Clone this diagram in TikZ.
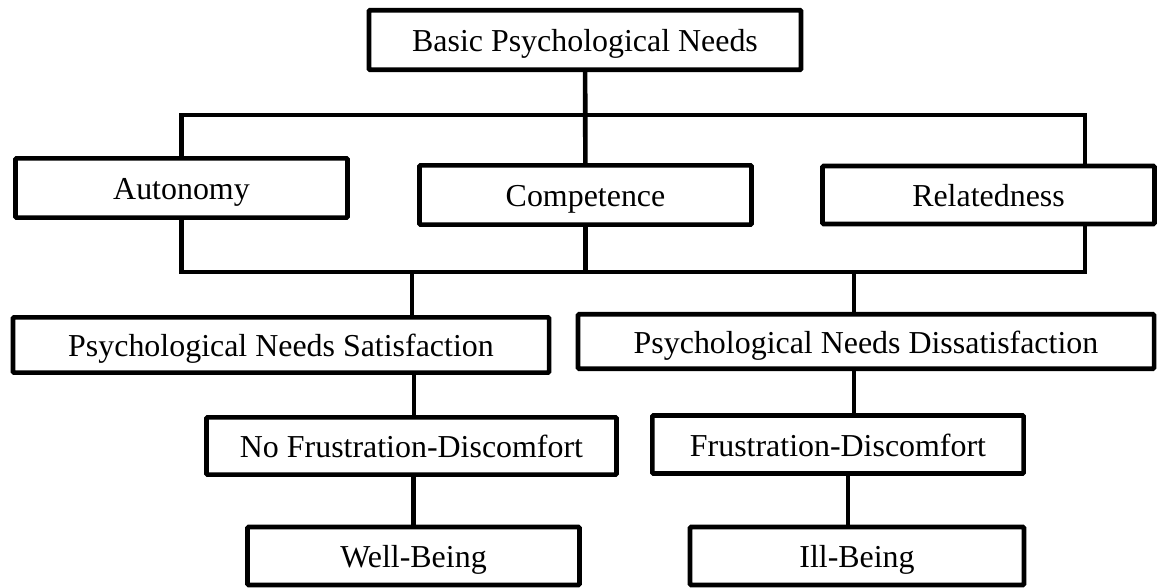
\documentclass[tikz,border=0pt]{standalone}
\usepackage{fontspec}
\setmainfont{Liberation Serif}
\usepackage{tikz}
\usetikzlibrary{calc}

\tikzset{
    needbox/.style={draw=black, line width=3.3pt, rounded corners=0.8pt, inner sep=0pt,
        text height=17pt, text depth=0pt, font=\fontsize{22.7}{27}\selectfont},
    link/.style={draw=black, line width=3.3pt}
}

\begin{document}
\begin{tikzpicture}[x=0.025cm, y=-0.025cm]
        \useasboundingbox (0,0) rectangle (1158,587);
        \node[needbox, minimum width=10.8cm, minimum height=1.49cm] (basic) at (585,40) {Basic Psychological Needs};
        \node[needbox, minimum width=8.3cm, minimum height=1.48cm] (auto) at (181.5,188) {Autonomy};
        \node[needbox, minimum width=8.3cm, minimum height=1.48cm] (comp) at (585.5,195) {Competence};
        \node[needbox, minimum width=8.3cm, minimum height=1.45cm] (rel) at (988.5,195) {Relatedness};
        \node[needbox, minimum width=13.4cm, minimum height=1.38cm] (sat) at (281,345) {Psychological Needs Satisfaction};
        \node[needbox, minimum width=14.4cm, minimum height=1.36cm] (dis) at (866,341.5) {Psychological Needs Dissatisfaction};
        \node[needbox, minimum width=10.25cm, minimum height=1.43cm] (nofr) at (411.5,446) {No Frustration-Discomfort};
        \node[needbox, minimum width=9.28cm, minimum height=1.45cm] (fr) at (838,444.5) {Frustration-Discomfort};
        \node[needbox, minimum width=8.3cm, minimum height=1.45cm] (well) at (413.5,556) {Well-Being};
        \node[needbox, minimum width=8.35cm, minimum height=1.45cm] (ill) at (857,556) {Ill-Being};

        \coordinate (rj) at (1085,115);
        \coordinate (rk) at (1085,272);
        \coordinate (sj) at (412,272);
        \coordinate (dj) at (854,272);
        \coordinate (ij) at (848,500);

        \draw[link] (basic) -- (comp);
        \draw[link] (auto.north) |- (rj) -- (rj |- rel.north);
        \draw[link] (auto.south) |- (rk) -- (rk |- rel.south);
        \draw[link] (comp.south) -- (comp.south |- rk);
        \draw[link] (sj) -- (sj |- sat.north);
        \draw[link] (dj) -- (dj |- dis.north);
        \draw[link] (sat.south -| 414,0) -- (nofr.north -| 414,0);
        \draw[link] (dj |- dis.south) -- (dj |- fr.north);
        \draw[link] (well.north |- nofr.south) -- (well.north);
        \draw[link] (ij |- fr.south) -- (ij |- ill.north);
\end{tikzpicture}
\end{document}
